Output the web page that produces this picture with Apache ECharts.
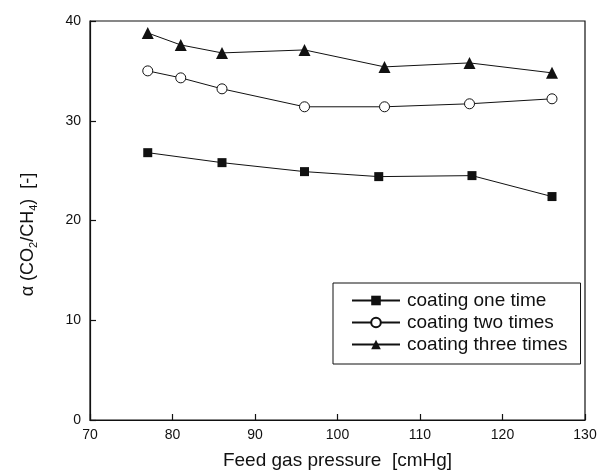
<!DOCTYPE html>
<html><head><meta charset="utf-8">
<script src="https://cdn.jsdelivr.net/npm/echarts@6/dist/echarts.min.js"></script>
<style>html,body{margin:0;padding:0;background:#fff}#c{width:600px;height:475px}</style>
</head><body><div id="c"></div>
<script>
const seriesNames = ['coating one time', 'coating two times', 'coating three times'];
const xOne = [77, 86, 96, 105, 116.3, 126];
const yOne = [26.8, 25.8, 24.9, 24.4, 24.5, 22.4];
const xTwo = [77, 81, 86, 96, 105.7, 116, 126];
const yTwo = [35.0, 34.3, 33.2, 31.4, 31.4, 31.7, 32.2];
const xThree = [77, 81, 86, 96, 105.7, 116, 126];
const yThree = [38.8, 37.6, 36.8, 37.1, 35.4, 35.8, 34.8];
const xTicks = [70, 80, 90, 100, 110, 120, 130];
const yTicks = [0, 10, 20, 30, 40];

const pair = (xs, ys) => xs.map((x, i) => [x, ys[i]]);
const font = 'Liberation Sans, Arial, sans-serif';
const chart = echarts.init(document.getElementById('c'));
const axisCommon = {
  axisLine: {show: true, lineStyle: {color: '#111', width: 1.2}},
  axisTick: {show: true, inside: true, length: 6, lineStyle: {color: '#111', width: 1.2}},
  splitLine: {show: false},
  axisLabel: {color: '#111', fontSize: 14, fontFamily: font}
};
chart.setOption({
  backgroundColor: '#fff',
  animation: false,
  grid: {left: 90, right: 15, top: 21, bottom: 53, show: true, borderColor: '#111', borderWidth: 1.2},
  xAxis: Object.assign({}, axisCommon, {
    type: 'value', min: xTicks[0], max: xTicks[xTicks.length - 1], interval: 10,
    axisLabel: Object.assign({}, axisCommon.axisLabel, {margin: 8}),
    name: 'Feed gas pressure  [cmHg]', nameLocation: 'middle', nameGap: 31,
    nameTextStyle: {color: '#111', fontSize: 19, fontFamily: font}
  }),
  yAxis: Object.assign({}, axisCommon, {
    type: 'value', min: yTicks[0], max: yTicks[yTicks.length - 1], interval: 10,
    axisLabel: Object.assign({}, axisCommon.axisLabel, {margin: 9}),
    name: '{a|α (CO}{s|2}{a|/CH}{s|4}{a|)  [-]}', nameLocation: 'middle', nameGap: 51, nameRotate: 90,
    nameTextStyle: {color: '#111', fontFamily: font, padding: [0, 28, 0, 0],
      rich: {a: {fontSize: 18, fontFamily: font, color: '#111', lineHeight: 22},
             s: {fontSize: 11, fontFamily: font, color: '#111', lineHeight: 22, verticalAlign: 'bottom', padding: [9, 0, 0, 0]}}}
  }),
  legend: {
    orient: 'vertical', left: 333, top: 283,
    backgroundColor: '#fff', borderColor: '#111', borderWidth: 1,
    padding: [8, 13, 10, 18], itemGap: 3, itemWidth: 48, itemHeight: 12,
    textStyle: {color: '#111', fontSize: 19, fontFamily: font, padding: [0, 0, 0, 2]},
    data: seriesNames
  },
  series: [
    {name: seriesNames[0], type: 'line', data: pair(xOne, yOne), symbol: 'rect', symbolSize: 9,
     itemStyle: {color: '#111'}, lineStyle: {color: '#111', width: 1}},
    {name: seriesNames[1], type: 'line', data: pair(xTwo, yTwo), symbol: 'circle', symbolSize: 10,
     itemStyle: {color: '#fff', borderColor: '#111', borderWidth: 1}, lineStyle: {color: '#111', width: 1}},
    {name: seriesNames[2], type: 'line', data: pair(xThree, yThree), symbol: 'triangle', symbolSize: 12,
     itemStyle: {color: '#111'}, lineStyle: {color: '#111', width: 1}}
  ]
});
</script></body></html>
